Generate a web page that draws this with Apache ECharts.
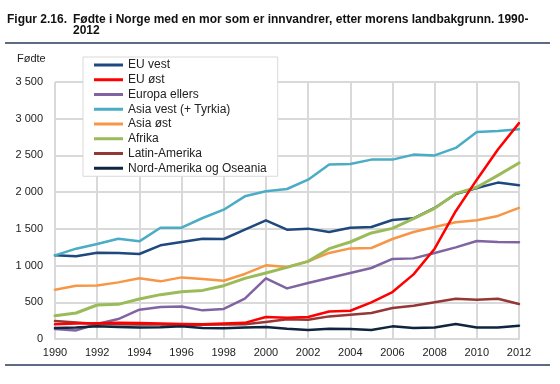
<!DOCTYPE html>
<html>
<head>
<meta charset="utf-8">
<script src="https://cdn.jsdelivr.net/npm/echarts@6/dist/echarts.min.js"></script>
<style>
html,body{margin:0;padding:0;background:#fff;}
#chart{width:560px;height:384px;}
</style>
</head>
<body>
<div id="chart"></div>
<script>
var years = ['1990','1991','1992','1993','1994','1995','1996','1997','1998','1999','2000','2001','2002','2003','2004','2005','2006','2007','2008','2009','2010','2011','2012'];
var seriesNames = ['EU vest','EU øst','Europa ellers','Asia vest (+ Tyrkia)','Asia øst','Afrika','Latin-Amerika','Nord-Amerika og Oseania'];
var euVest = [1139,1126,1176,1171,1158,1276,1321,1366,1362,1489,1616,1489,1503,1458,1516,1526,1621,1643,1785,1975,2057,2130,2093];
var euOst = [200,210,215,220,218,212,205,200,210,220,300,290,300,375,385,500,640,880,1230,1740,2170,2580,2940];
var europaEllers = [136,117,204,272,399,436,444,390,409,549,826,689,763,831,899,967,1090,1098,1172,1248,1335,1321,1317];
var asiaVest = [1139,1230,1294,1366,1330,1516,1516,1648,1761,1943,2011,2043,2170,2375,2384,2443,2443,2511,2500,2602,2820,2834,2856];
var asiaOst = [672,726,730,771,826,785,839,817,794,886,1003,981,1057,1172,1234,1239,1362,1458,1526,1589,1616,1676,1785];
var afrika = [317,354,463,472,545,604,644,662,726,826,899,976,1057,1230,1321,1444,1507,1639,1779,1980,2066,2229,2398];
var latinAmerika = [245,225,205,200,198,196,195,195,196,200,232,270,263,308,331,354,422,454,499,549,535,549,477];
var nordAmerika = [150,155,172,165,158,160,172,150,145,155,165,140,123,140,136,123,172,150,158,204,158,158,181];
var yTicks = [0,500,1000,1500,2000,2500,3000,3500];

var allData = [euVest, euOst, europaEllers, asiaVest, asiaOst, afrika, latinAmerika, nordAmerika];
var colors = ['#1F497D','#FF0000','#8064A2','#4BACC6','#F79646','#9BBB59','#953735','#0F243E'];
var widths = [2.5,2.5,2.5,2.5,2.5,3,2.5,2.5];
var zs = [2,5,2,2,2,3,2,4];

var font = '"Liberation Sans", Arial, sans-serif';
var chart = echarts.init(document.getElementById('chart'), null, {renderer:'canvas'});

var series = seriesNames.map(function(n,i){
  return {
    name: n, type: 'line', data: allData[i], symbol: 'none', z: zs[i],
    lineStyle: {color: colors[i], width: widths[i], cap: 'round', join: 'round'},
    itemStyle: {color: colors[i]},
    animation: false
  };
});

chart.setOption({
  animation: false,
  textStyle: {fontFamily: font},
  grid: {left: 55, right: 41, top: 82, bottom: 45, containLabel: false},
  legend: {
    orient: 'vertical', left: 83, top: 57,
    padding: [1, 11, 1, 11],
    backgroundColor: '#fff', borderColor: '#d9d9d9', borderWidth: 1,
    itemWidth: 29, itemHeight: 14, itemGap: 0.75,
    icon: 'path://M0,6 L29,6 L29,9 L0,9 Z',
    textStyle: {fontFamily: font, fontSize: 12, color: '#222', lineHeight: 14},
    data: seriesNames
  },
  xAxis: {
    type: 'category', data: years, boundaryGap: false,
    axisLine: {show: true, lineStyle: {color: '#d9d9d9', width: 2}},
    axisTick: {show: false},
    axisLabel: {interval: 1, margin: 8, fontSize: 11, color: '#222', fontFamily: font},
    splitLine: {show: true, interval: 1, lineStyle: {color: '#d9d9d9', width: 2}}
  },
  yAxis: {
    type: 'value', min: 0, max: 3500, interval: 500,
    axisLine: {show: false}, axisTick: {show: false},
    axisLabel: {margin: 12, fontSize: 11, color: '#222', fontFamily: font,
      formatter: function(v){ return String(v).replace(/\B(?=(\d{3})+(?!\d))/g, ' '); }},
    splitLine: {show: true, lineStyle: {color: '#d9d9d9', width: 2}}
  },
  graphic: [
    {type: 'text', left: 7, top: 14, style: {text: 'Figur 2.16.', font: 'bold 12px ' + font, fill: '#111'}},
    {type: 'text', left: 73, top: 14, style: {text: 'Fødte i Norge med en mor som er innvandrer, etter morens landbakgrunn. 1990-', font: 'bold 12px ' + font, fill: '#111'}},
    {type: 'text', left: 73, top: 25, style: {text: '2012', font: 'bold 12px ' + font, fill: '#111'}},
    {type: 'rect', shape: {x: 5, y: 42, width: 545, height: 2}, style: {fill: '#5f6b84'}},
    {type: 'rect', shape: {x: 5, y: 364, width: 545, height: 2}, style: {fill: '#5f6b84'}},
    {type: 'text', left: 17, top: 53, style: {text: 'Fødte', font: '11px ' + font, fill: '#222'}}
  ],
  series: series
});
</script>
</body>
</html>
